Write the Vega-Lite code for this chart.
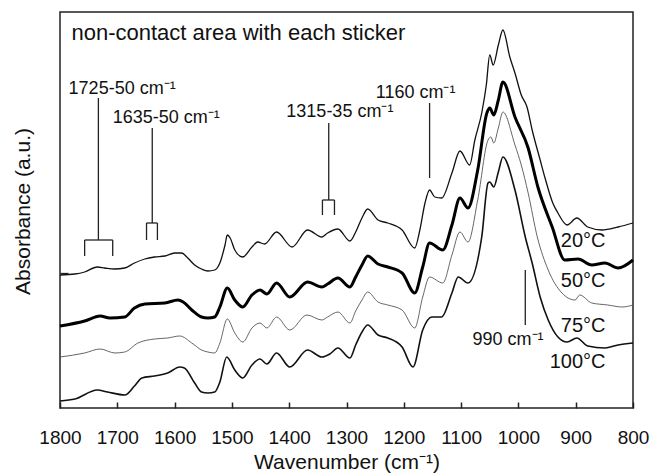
{
  "$schema": "https://vega.github.io/schema/vega-lite/v6.json",
  "width": 573,
  "height": 396,
  "autosize": {"type": "none"},
  "padding": {"left": 60, "top": 12, "right": 19, "bottom": 67},
  "config": {"view": {"stroke": "#222", "strokeWidth": 1.5}, "font": "Liberation Sans"},
  "datasets": {
    "spectra": [
      {"temp":"20°C","wn":1800,"abs":1.33},{"temp":"20°C","wn":1774,"abs":1.34},{"temp":"20°C","wn":1757,"abs":1.36},{"temp":"20°C","wn":1735,"abs":1.41},{"temp":"20°C","wn":1722,"abs":1.40},{"temp":"20°C","wn":1705,"abs":1.39},{"temp":"20°C","wn":1687,"abs":1.40},{"temp":"20°C","wn":1670,"abs":1.45},{"temp":"20°C","wn":1652,"abs":1.49},{"temp":"20°C","wn":1635,"abs":1.51},{"temp":"20°C","wn":1617,"abs":1.52},{"temp":"20°C","wn":1600,"abs":1.55},{"temp":"20°C","wn":1588,"abs":1.55},{"temp":"20°C","wn":1577,"abs":1.50},{"temp":"20°C","wn":1565,"abs":1.43},{"temp":"20°C","wn":1553,"abs":1.39},{"temp":"20°C","wn":1542,"abs":1.37},{"temp":"20°C","wn":1530,"abs":1.38},{"temp":"20°C","wn":1521,"abs":1.45},{"temp":"20°C","wn":1512,"abs":1.63},{"temp":"20°C","wn":1508,"abs":1.73},{"temp":"20°C","wn":1503,"abs":1.70},{"temp":"20°C","wn":1495,"abs":1.58},{"temp":"20°C","wn":1481,"abs":1.51},{"temp":"20°C","wn":1465,"abs":1.61},{"temp":"20°C","wn":1455,"abs":1.66},{"temp":"20°C","wn":1443,"abs":1.64},{"temp":"20°C","wn":1422,"abs":1.76},{"temp":"20°C","wn":1395,"abs":1.61},{"temp":"20°C","wn":1368,"abs":1.78},{"temp":"20°C","wn":1343,"abs":1.71},{"temp":"20°C","wn":1333,"abs":1.75},{"temp":"20°C","wn":1315,"abs":1.79},{"temp":"20°C","wn":1294,"abs":1.67},{"temp":"20°C","wn":1284,"abs":1.76},{"temp":"20°C","wn":1273,"abs":1.90},{"temp":"20°C","wn":1263,"abs":1.99},{"temp":"20°C","wn":1245,"abs":1.88},{"temp":"20°C","wn":1228,"abs":1.85},{"temp":"20°C","wn":1203,"abs":1.78},{"temp":"20°C","wn":1181,"abs":1.60},{"temp":"20°C","wn":1172,"abs":1.78},{"temp":"20°C","wn":1163,"abs":2.05},{"temp":"20°C","wn":1155,"abs":2.18},{"temp":"20°C","wn":1146,"abs":2.11},{"temp":"20°C","wn":1134,"abs":2.10},{"temp":"20°C","wn":1116,"abs":2.35},{"temp":"20°C","wn":1102,"abs":2.57},{"temp":"20°C","wn":1085,"abs":2.43},{"temp":"20°C","wn":1076,"abs":2.68},{"temp":"20°C","wn":1064,"abs":2.95},{"temp":"20°C","wn":1056,"abs":3.23},{"temp":"20°C","wn":1050,"abs":3.53},{"temp":"20°C","wn":1044,"abs":3.43},{"temp":"20°C","wn":1035,"abs":3.63},{"temp":"20°C","wn":1027,"abs":3.78},{"temp":"20°C","wn":1015,"abs":3.51},{"temp":"20°C","wn":1006,"abs":3.35},{"temp":"20°C","wn":995,"abs":3.13},{"temp":"20°C","wn":985,"abs":3.01},{"temp":"20°C","wn":976,"abs":2.78},{"temp":"20°C","wn":962,"abs":2.48},{"temp":"20°C","wn":954,"abs":2.31},{"temp":"20°C","wn":940,"abs":2.05},{"temp":"20°C","wn":931,"abs":1.95},{"temp":"20°C","wn":915,"abs":1.83},{"temp":"20°C","wn":898,"abs":1.90},{"temp":"20°C","wn":879,"abs":1.81},{"temp":"20°C","wn":854,"abs":1.78},{"temp":"20°C","wn":826,"abs":1.81},{"temp":"20°C","wn":800,"abs":1.85},
      {"temp":"50°C","wn":1800,"abs":0.82},{"temp":"50°C","wn":1757,"abs":0.87},{"temp":"50°C","wn":1730,"abs":0.92},{"temp":"50°C","wn":1713,"abs":0.90},{"temp":"50°C","wn":1687,"abs":0.91},{"temp":"50°C","wn":1670,"abs":1.00},{"temp":"50°C","wn":1652,"abs":1.04},{"temp":"50°C","wn":1617,"abs":1.05},{"temp":"50°C","wn":1594,"abs":1.08},{"temp":"50°C","wn":1585,"abs":1.06},{"temp":"50°C","wn":1570,"abs":0.98},{"temp":"50°C","wn":1553,"abs":0.91},{"temp":"50°C","wn":1542,"abs":0.90},{"temp":"50°C","wn":1530,"abs":0.91},{"temp":"50°C","wn":1521,"abs":1.01},{"temp":"50°C","wn":1508,"abs":1.20},{"temp":"50°C","wn":1495,"abs":1.08},{"temp":"50°C","wn":1481,"abs":1.01},{"temp":"50°C","wn":1465,"abs":1.13},{"temp":"50°C","wn":1451,"abs":1.18},{"temp":"50°C","wn":1439,"abs":1.14},{"temp":"50°C","wn":1422,"abs":1.25},{"temp":"50°C","wn":1399,"abs":1.11},{"temp":"50°C","wn":1368,"abs":1.26},{"temp":"50°C","wn":1343,"abs":1.21},{"temp":"50°C","wn":1333,"abs":1.24},{"temp":"50°C","wn":1315,"abs":1.30},{"temp":"50°C","wn":1294,"abs":1.21},{"temp":"50°C","wn":1284,"abs":1.31},{"temp":"50°C","wn":1273,"abs":1.43},{"temp":"50°C","wn":1263,"abs":1.52},{"temp":"50°C","wn":1245,"abs":1.44},{"temp":"50°C","wn":1228,"abs":1.41},{"temp":"50°C","wn":1203,"abs":1.35},{"temp":"50°C","wn":1181,"abs":1.15},{"temp":"50°C","wn":1167,"abs":1.41},{"temp":"50°C","wn":1155,"abs":1.65},{"temp":"50°C","wn":1132,"abs":1.58},{"temp":"50°C","wn":1116,"abs":1.83},{"temp":"50°C","wn":1102,"abs":2.10},{"temp":"50°C","wn":1088,"abs":2.00},{"temp":"50°C","wn":1071,"abs":2.38},{"temp":"50°C","wn":1055,"abs":2.95},{"temp":"50°C","wn":1050,"abs":3.00},{"temp":"50°C","wn":1043,"abs":2.93},{"temp":"50°C","wn":1035,"abs":3.08},{"temp":"50°C","wn":1027,"abs":3.26},{"temp":"50°C","wn":1006,"abs":2.91},{"temp":"50°C","wn":983,"abs":2.60},{"temp":"50°C","wn":966,"abs":2.21},{"temp":"50°C","wn":941,"abs":1.81},{"temp":"50°C","wn":919,"abs":1.48},{"temp":"50°C","wn":896,"abs":1.49},{"temp":"50°C","wn":872,"abs":1.43},{"temp":"50°C","wn":849,"abs":1.45},{"temp":"50°C","wn":826,"abs":1.40},{"temp":"50°C","wn":800,"abs":1.48},
      {"temp":"75°C","wn":1800,"abs":0.51},{"temp":"75°C","wn":1757,"abs":0.55},{"temp":"75°C","wn":1730,"abs":0.59},{"temp":"75°C","wn":1704,"abs":0.55},{"temp":"75°C","wn":1687,"abs":0.56},{"temp":"75°C","wn":1664,"abs":0.65},{"temp":"75°C","wn":1635,"abs":0.69},{"temp":"75°C","wn":1612,"abs":0.70},{"temp":"75°C","wn":1591,"abs":0.72},{"temp":"75°C","wn":1570,"abs":0.65},{"temp":"75°C","wn":1553,"abs":0.58},{"temp":"75°C","wn":1542,"abs":0.56},{"temp":"75°C","wn":1530,"abs":0.55},{"temp":"75°C","wn":1521,"abs":0.65},{"temp":"75°C","wn":1508,"abs":0.89},{"temp":"75°C","wn":1495,"abs":0.75},{"temp":"75°C","wn":1481,"abs":0.66},{"temp":"75°C","wn":1465,"abs":0.80},{"temp":"75°C","wn":1451,"abs":0.85},{"temp":"75°C","wn":1439,"abs":0.80},{"temp":"75°C","wn":1422,"abs":0.91},{"temp":"75°C","wn":1399,"abs":0.78},{"temp":"75°C","wn":1369,"abs":0.93},{"temp":"75°C","wn":1343,"abs":0.88},{"temp":"75°C","wn":1333,"abs":0.91},{"temp":"75°C","wn":1315,"abs":0.96},{"temp":"75°C","wn":1294,"abs":0.85},{"temp":"75°C","wn":1284,"abs":0.97},{"temp":"75°C","wn":1273,"abs":1.08},{"temp":"75°C","wn":1263,"abs":1.16},{"temp":"75°C","wn":1245,"abs":1.06},{"temp":"75°C","wn":1228,"abs":1.03},{"temp":"75°C","wn":1203,"abs":0.98},{"temp":"75°C","wn":1181,"abs":0.80},{"temp":"75°C","wn":1167,"abs":1.11},{"temp":"75°C","wn":1155,"abs":1.31},{"temp":"75°C","wn":1132,"abs":1.25},{"temp":"75°C","wn":1116,"abs":1.53},{"temp":"75°C","wn":1102,"abs":1.76},{"temp":"75°C","wn":1088,"abs":1.66},{"temp":"75°C","wn":1071,"abs":2.08},{"temp":"75°C","wn":1053,"abs":2.68},{"temp":"75°C","wn":1048,"abs":2.71},{"temp":"75°C","wn":1043,"abs":2.65},{"temp":"75°C","wn":1035,"abs":2.80},{"temp":"75°C","wn":1027,"abs":2.96},{"temp":"75°C","wn":1006,"abs":2.63},{"temp":"75°C","wn":995,"abs":2.43},{"temp":"75°C","wn":983,"abs":2.15},{"temp":"75°C","wn":967,"abs":1.71},{"temp":"75°C","wn":948,"abs":1.38},{"temp":"75°C","wn":924,"abs":1.15},{"temp":"75°C","wn":901,"abs":1.08},{"temp":"75°C","wn":893,"abs":1.13},{"temp":"75°C","wn":872,"abs":1.05},{"temp":"75°C","wn":844,"abs":1.03},{"temp":"75°C","wn":819,"abs":1.01},{"temp":"75°C","wn":800,"abs":1.03},
      {"temp":"100°C","wn":1800,"abs":0.07},{"temp":"100°C","wn":1774,"abs":0.09},{"temp":"100°C","wn":1735,"abs":0.18},{"temp":"100°C","wn":1717,"abs":0.16},{"temp":"100°C","wn":1687,"abs":0.13},{"temp":"100°C","wn":1670,"abs":0.22},{"temp":"100°C","wn":1657,"abs":0.30},{"temp":"100°C","wn":1635,"abs":0.32},{"temp":"100°C","wn":1612,"abs":0.35},{"temp":"100°C","wn":1591,"abs":0.41},{"temp":"100°C","wn":1583,"abs":0.40},{"temp":"100°C","wn":1565,"abs":0.25},{"temp":"100°C","wn":1553,"abs":0.16},{"temp":"100°C","wn":1542,"abs":0.15},{"temp":"100°C","wn":1530,"abs":0.16},{"temp":"100°C","wn":1521,"abs":0.26},{"temp":"100°C","wn":1509,"abs":0.51},{"temp":"100°C","wn":1495,"abs":0.38},{"temp":"100°C","wn":1481,"abs":0.30},{"temp":"100°C","wn":1465,"abs":0.43},{"temp":"100°C","wn":1451,"abs":0.49},{"temp":"100°C","wn":1439,"abs":0.44},{"temp":"100°C","wn":1422,"abs":0.55},{"temp":"100°C","wn":1399,"abs":0.41},{"temp":"100°C","wn":1368,"abs":0.58},{"temp":"100°C","wn":1343,"abs":0.51},{"temp":"100°C","wn":1329,"abs":0.54},{"temp":"100°C","wn":1315,"abs":0.60},{"temp":"100°C","wn":1294,"abs":0.50},{"temp":"100°C","wn":1284,"abs":0.63},{"temp":"100°C","wn":1273,"abs":0.76},{"temp":"100°C","wn":1263,"abs":0.83},{"temp":"100°C","wn":1245,"abs":0.73},{"temp":"100°C","wn":1228,"abs":0.70},{"temp":"100°C","wn":1203,"abs":0.61},{"temp":"100°C","wn":1184,"abs":0.41},{"temp":"100°C","wn":1167,"abs":0.78},{"temp":"100°C","wn":1151,"abs":0.91},{"temp":"100°C","wn":1134,"abs":0.91},{"temp":"100°C","wn":1116,"abs":1.15},{"temp":"100°C","wn":1105,"abs":1.31},{"temp":"100°C","wn":1088,"abs":1.25},{"temp":"100°C","wn":1064,"abs":1.71},{"temp":"100°C","wn":1053,"abs":2.25},{"temp":"100°C","wn":1050,"abs":2.26},{"temp":"100°C","wn":1043,"abs":2.21},{"temp":"100°C","wn":1035,"abs":2.36},{"temp":"100°C","wn":1027,"abs":2.51},{"temp":"100°C","wn":1006,"abs":2.18},{"temp":"100°C","wn":988,"abs":1.71},{"temp":"100°C","wn":976,"abs":1.45},{"temp":"100°C","wn":962,"abs":1.11},{"temp":"100°C","wn":948,"abs":0.88},{"temp":"100°C","wn":931,"abs":0.71},{"temp":"100°C","wn":915,"abs":0.66},{"temp":"100°C","wn":898,"abs":0.70},{"temp":"100°C","wn":879,"abs":0.62},{"temp":"100°C","wn":849,"abs":0.60},{"temp":"100°C","wn":826,"abs":0.63},{"temp":"100°C","wn":800,"abs":0.65}
    ],
    "rules": [
      {"wn":1733,"abs":3.10,"wn2":1733,"abs2":1.68},
      {"wn":1757,"abs":1.68,"wn2":1708,"abs2":1.68},
      {"wn":1757,"abs":1.68,"wn2":1757,"abs2":1.52},
      {"wn":1708,"abs":1.68,"wn2":1708,"abs2":1.52},
      {"wn":1639,"abs":2.80,"wn2":1639,"abs2":1.85},
      {"wn":1649,"abs":1.85,"wn2":1630,"abs2":1.85},
      {"wn":1649,"abs":1.85,"wn2":1649,"abs2":1.68},
      {"wn":1630,"abs":1.85,"wn2":1630,"abs2":1.68},
      {"wn":1331,"abs":2.85,"wn2":1331,"abs2":2.08},
      {"wn":1342,"abs":2.08,"wn2":1321,"abs2":2.08},
      {"wn":1342,"abs":2.08,"wn2":1342,"abs2":1.93},
      {"wn":1321,"abs":2.08,"wn2":1321,"abs2":1.93},
      {"wn":1155,"abs":3.05,"wn2":1155,"abs2":2.30},
      {"wn":988,"abs":1.38,"wn2":988,"abs2":0.83}
    ],
    "labels": [
      {"kind":"band","label":"1725-50 cm⁻¹","wn":1785,"abs":3.14},
      {"kind":"band","label":"1635-50 cm⁻¹","wn":1708,"abs":2.85},
      {"kind":"band","label":"1315-35 cm⁻¹","wn":1405,"abs":2.91},
      {"kind":"band","label":"1160 cm⁻¹","wn":1249,"abs":3.10},
      {"kind":"band","label":"990 cm⁻¹","wn":1080,"abs":0.63},
      {"kind":"temp","label":"20°C","wn":848,"abs":1.61},
      {"kind":"temp","label":"50°C","wn":848,"abs":1.21},
      {"kind":"temp","label":"75°C","wn":848,"abs":0.76},
      {"kind":"temp","label":"100°C","wn":848,"abs":0.40},
      {"kind":"title","label":"non-contact area with each sticker","wn":1780,"abs":3.68}
    ]
  },
  "encoding": {
    "x": {
      "field": "wn", "type": "quantitative",
      "scale": {"domain": [800, 1800], "reverse": true, "nice": false, "zero": false},
      "axis": {
        "title": "Wavenumber (cm⁻¹)", "values": [1800,1700,1600,1500,1400,1300,1200,1100,1000,900,800], "format": "d",
        "domain": false, "grid": false, "tickSize": -6, "tickWidth": 1.5, "tickColor": "#222",
        "labelPadding": 26, "labelFontSize": 19, "labelColor": "#111", "labelFlush": false, "labelOverlap": false,
        "labelFont": "Liberation Sans", "titleFont": "Liberation Sans", "titleFontSize": 21,
        "titleFontWeight": "normal", "titleColor": "#111", "titleBaseline": "alphabetic", "titleY": 60
      }
    },
    "y": {
      "field": "abs", "type": "quantitative",
      "scale": {"domain": [0, 3.96], "nice": false, "zero": false},
      "axis": {
        "title": "Absorbance (a.u.)", "labels": false, "values": [1.35], "ticks": true, "tickSize": -8, "tickWidth": 1.3, "tickColor": "#222",
        "domain": false, "grid": false,
        "titleFont": "Liberation Sans", "titleFontSize": 21, "titleFontWeight": "normal", "titleColor": "#111",
        "titleBaseline": "alphabetic", "titleX": -31, "titleY": 199, "titleAngle": -90, "titleAlign": "center"
      }
    }
  },
  "layer": [
    {
      "data": {"name": "spectra"},
      "mark": {"type": "line", "interpolate": "monotone"},
      "encoding": {
        "color": {"field": "temp", "type": "nominal", "scale": {"domain": ["20°C","50°C","75°C","100°C"], "range": ["#111","#000","#555","#111"]}, "legend": null},
        "strokeWidth": {"field": "temp", "type": "nominal", "scale": {"type": "ordinal", "domain": ["20°C","50°C","75°C","100°C"], "range": [1.3,3.0,0.9,1.6]}, "legend": null}
      }
    },
    {
      "data": {"name": "rules"},
      "mark": {"type": "rule", "color": "#222", "strokeWidth": 1.3},
      "encoding": {"x2": {"field": "wn2"}, "y2": {"field": "abs2"}}
    },
    {
      "data": {"name": "labels"},
      "transform": [{"filter": "datum.kind === 'band'"}],
      "mark": {"type": "text", "align": "left", "baseline": "alphabetic", "fontSize": 18, "font": "Liberation Sans", "color": "#111"},
      "encoding": {"text": {"field": "label"}}
    },
    {
      "data": {"name": "labels"},
      "transform": [{"filter": "datum.kind === 'temp'"}],
      "mark": {"type": "text", "align": "right", "baseline": "alphabetic", "fontSize": 20, "font": "Liberation Sans", "color": "#111"},
      "encoding": {"text": {"field": "label"}}
    },
    {
      "data": {"name": "labels"},
      "transform": [{"filter": "datum.kind === 'title'"}],
      "mark": {"type": "text", "align": "left", "baseline": "alphabetic", "fontSize": 22, "font": "Liberation Sans", "color": "#111"},
      "encoding": {"text": {"field": "label"}}
    }
  ]
}
